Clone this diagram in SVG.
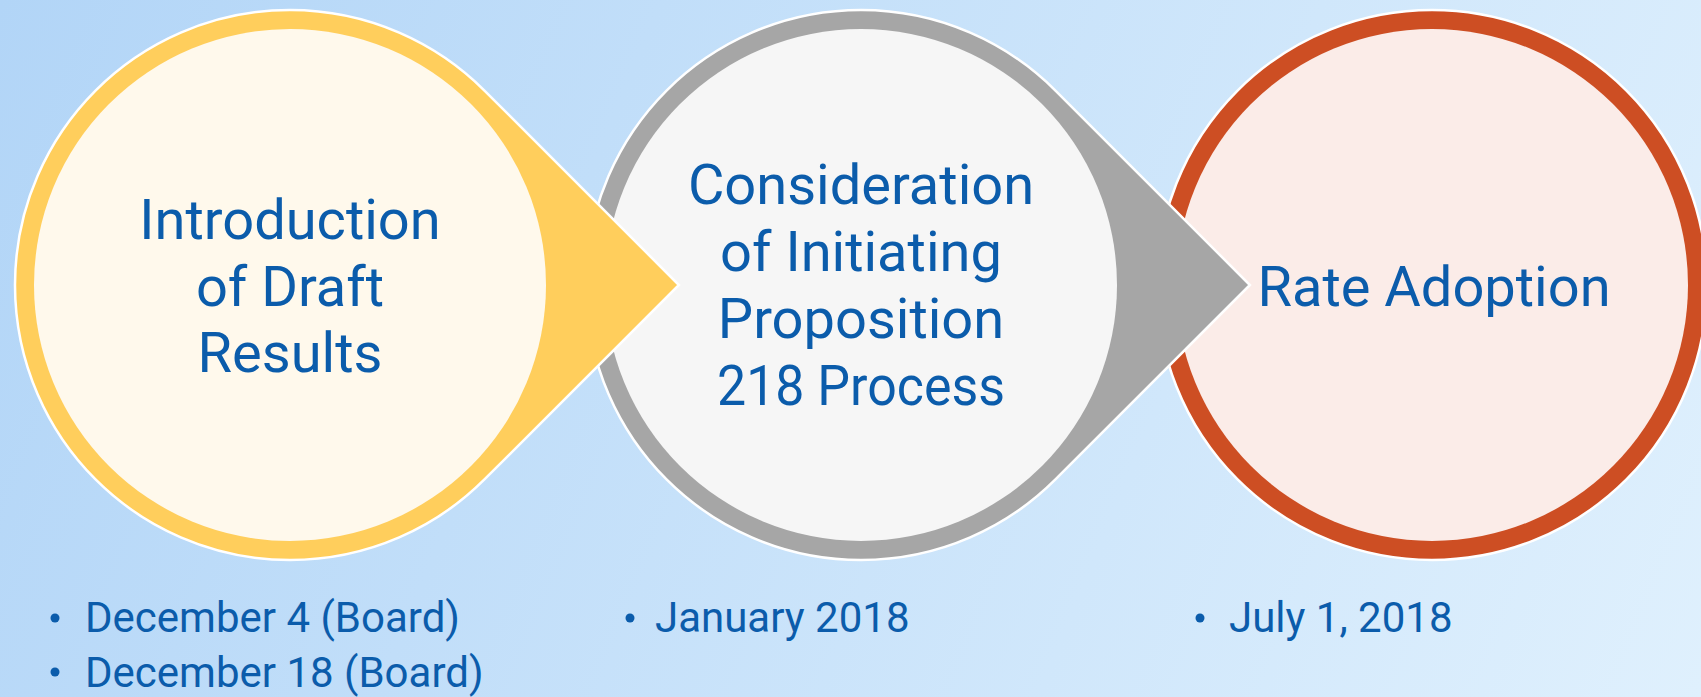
<svg xmlns="http://www.w3.org/2000/svg" width="1701" height="697" viewBox="0 0 1701 697">
  <defs>
    <linearGradient id="bg" gradientUnits="userSpaceOnUse" x1="0" y1="0" x2="1701" y2="697">
      <stop offset="0" stop-color="#B2D5F7"/>
      <stop offset="1" stop-color="#DFF0FD"/>
    </linearGradient>
    <path id="drop" d="M388.9 0 L194.45 194.45 A275 275 0 1 1 194.45 -194.45 Z"/>
  </defs>
  <style>
    .drop { stroke: #FFFFFF; stroke-width: 2.5; stroke-linejoin: miter; }
    .title { font-family: Roboto, "Liberation Sans", sans-serif; font-size: 56px; fill: #0B5CAB; text-anchor: middle; }
    .bullet { font-family: Roboto, "Liberation Sans", sans-serif; font-size: 42px; fill: #0B5CAB; }
    .dot { fill: #0B5CAB; }
  </style>
  <rect x="0" y="0" width="1701" height="697" fill="url(#bg)"/>

  <g id="connectors"></g>

  <g id="node-rate-adoption" transform="translate(1432,285)">
    <circle cx="0" cy="0" r="275" class="drop" fill="#CD4E23"/>
    <circle cx="0" cy="0" r="256" fill="#FBECE8"/>
    <text class="title" x="2" y="20.5">Rate Adoption</text>
  </g>

  <g id="node-consideration" transform="translate(861,285)">
    <use href="#drop" class="drop" fill="#A6A6A6"/>
    <circle cx="0" cy="0" r="256" fill="#F6F6F6"/>
    <text class="title" x="0" y="-81">Consideration</text>
    <text class="title" x="0" y="-14">of Initiating</text>
    <text class="title" x="0" y="53">Proposition</text>
    <text class="title" x="0" y="120" textLength="288" lengthAdjust="spacingAndGlyphs">218 Process</text>
  </g>

  <g id="node-introduction" transform="translate(290,285)">
    <use href="#drop" class="drop" fill="#FFCE5C"/>
    <circle cx="0" cy="0" r="256" fill="#FFF9EC"/>
    <text class="title" x="0" y="-46">Introduction</text>
    <text class="title" x="0" y="20.5">of Draft</text>
    <text class="title" x="0" y="87">Results</text>
  </g>

  <g id="dates-introduction">
    <circle class="dot" cx="55" cy="618" r="4.5"/>
    <text class="bullet" x="85" y="632">December 4 (Board)</text>
    <circle class="dot" cx="55" cy="672" r="4.5"/>
    <text class="bullet" x="85" y="687">December 18 (Board)</text>
  </g>
  <g id="dates-consideration">
    <circle class="dot" cx="630" cy="618" r="4.5"/>
    <text class="bullet" x="655" y="632">January 2018</text>
  </g>
  <g id="dates-rate-adoption">
    <circle class="dot" cx="1200" cy="618" r="4.5"/>
    <text class="bullet" x="1229" y="632">July 1, 2018</text>
  </g>
</svg>
